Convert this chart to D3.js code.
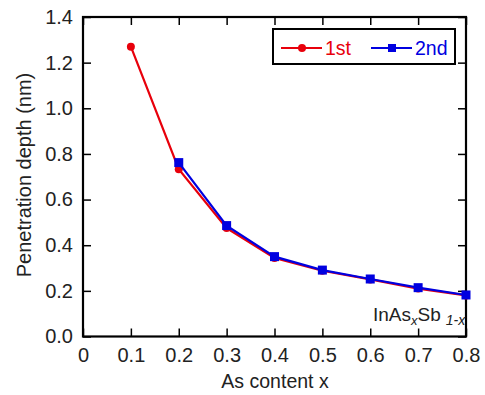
<!DOCTYPE html>
<html><head><meta charset="utf-8">
<script src="https://cdn.jsdelivr.net/npm/d3@7"></script>
<style>body{margin:0;background:#fff}svg{display:block}text{font-family:"Liberation Sans",Arial,sans-serif}</style>
</head><body>
<svg id="c" width="485" height="395"></svg>
<script>
const xValues = [0.1, 0.2, 0.3, 0.4, 0.5, 0.6, 0.7, 0.8];
const series1st = [1.27, 0.733, 0.475, 0.344, 0.288, 0.25, 0.21, 0.18];
const xValues2 = [0.2, 0.3, 0.4, 0.5, 0.6, 0.7, 0.8];
const series2nd = [0.762, 0.486, 0.35, 0.291, 0.252, 0.214, 0.182];
const xTicks = [0, 0.1, 0.2, 0.3, 0.4, 0.5, 0.6, 0.7, 0.8];
const yTicks = [0, 0.2, 0.4, 0.6, 0.8, 1.0, 1.2, 1.4];
const seriesNames = ["1st", "2nd"];
const RED = "#e8000b", BLUE = "#0000e0";

const svg = d3.select("#c");
const L = 83, R = 466, T = 17, B = 336.5;
const x = d3.scaleLinear().domain([0, 0.8]).range([L, R]);
const y = d3.scaleLinear().domain([0, 1.4]).range([B, T]);

const fmtX = d => d === 0 ? "0" : d3.format(".1f")(d);
const fmtY = d3.format(".1f");
const xMinor = d3.range(0, 0.8001, 0.02);
const yMinor = d3.range(0, 1.4001, 0.05);

// bottom
const gb = svg.append("g").attr("transform", `translate(0,${B})`);
gb.call(d3.axisBottom(x).tickValues(xMinor).tickSize(-4).tickFormat(""));
gb.call(d3.axisBottom(x).tickValues(xTicks).tickSize(-8).tickPadding(11).tickFormat(fmtX));
// top
const gt = svg.append("g").attr("transform", `translate(0,${T})`);
gt.call(d3.axisTop(x).tickValues(xMinor).tickSize(-4).tickFormat(""));
gt.call(d3.axisTop(x).tickValues(xTicks).tickSize(-8).tickFormat(""));
// left
const gl = svg.append("g").attr("transform", `translate(${L},0)`);
gl.call(d3.axisLeft(y).tickValues(yMinor).tickSize(-4).tickFormat(""));
gl.call(d3.axisLeft(y).tickValues(yTicks).tickSize(-8).tickPadding(10).tickFormat(fmtY));
// right
const gr = svg.append("g").attr("transform", `translate(${R},0)`);
gr.call(d3.axisRight(y).tickValues(yMinor).tickSize(-4).tickFormat(""));
gr.call(d3.axisRight(y).tickValues(yTicks).tickSize(-8).tickFormat(""));

svg.selectAll(".domain").remove();
svg.selectAll(".tick line").attr("stroke", "#000").attr("stroke-width", 1.5);
svg.selectAll(".tick text").attr("fill", "#222").style("font-size", "20px");

svg.append("rect").attr("x", L).attr("y", T).attr("width", R - L).attr("height", B - T)
  .attr("fill", "none").attr("stroke", "#000").attr("stroke-width", 2.2);

const line = d3.line().x(d => x(d[0])).y(d => y(d[1]));
const d1 = xValues.map((v, i) => [v, series1st[i]]);
const d2 = xValues2.map((v, i) => [v, series2nd[i]]);

svg.append("path").datum(d1).attr("d", line).attr("fill", "none").attr("stroke", RED).attr("stroke-width", 2.2);
svg.selectAll(".c1").data(d1).enter().append("circle")
  .attr("cx", d => x(d[0])).attr("cy", d => y(d[1])).attr("r", 4).attr("fill", RED);
svg.append("path").datum(d2).attr("d", line).attr("fill", "none").attr("stroke", BLUE).attr("stroke-width", 2.2);
svg.selectAll(".s2").data(d2).enter().append("rect")
  .attr("x", d => x(d[0]) - 4.5).attr("y", d => y(d[1]) - 4.5).attr("width", 9).attr("height", 9).attr("fill", BLUE);

// legend
const lg = svg.append("g");
lg.append("rect").attr("x", 273).attr("y", 29).attr("width", 182).attr("height", 35)
  .attr("fill", "#fff").attr("stroke", "#000").attr("stroke-width", 2);
lg.append("line").attr("x1", 281).attr("x2", 322).attr("y1", 48).attr("y2", 48).attr("stroke", RED).attr("stroke-width", 2);
lg.append("circle").attr("cx", 302).attr("cy", 48).attr("r", 4).attr("fill", RED);
lg.append("text").attr("x", 325).attr("y", 54.5).attr("fill", RED).style("font-size", "19.5px").text(seriesNames[0]);
lg.append("line").attr("x1", 371).attr("x2", 412).attr("y1", 48).attr("y2", 48).attr("stroke", BLUE).attr("stroke-width", 2);
lg.append("rect").attr("x", 388).attr("y", 44).attr("width", 8).attr("height", 8).attr("fill", BLUE);
lg.append("text").attr("x", 415).attr("y", 54.5).attr("fill", BLUE).style("font-size", "19.5px").text(seriesNames[1]);

// annotation
const ann = svg.append("text").attr("x", 373).attr("y", 321)
  .attr("fill", "#222").style("font-size", "19px");
ann.append("tspan").text("InAs");
ann.append("tspan").attr("dy", 4).style("font-size", "13px").style("font-style", "italic").text("x");
ann.append("tspan").attr("dy", -4).text("Sb");
ann.append("tspan").attr("dy", 4).attr("dx", 5).style("font-size", "14px").style("font-style", "italic").text("1-x");

// axis titles
svg.append("text").attr("x", (L + R) / 2 + 0.5).attr("y", 388).attr("text-anchor", "middle")
  .attr("fill", "#222").style("font-size", "19.5px").text("As content x");
svg.append("text").attr("transform", `translate(31,175) rotate(-90)`).attr("text-anchor", "middle")
  .attr("fill", "#222").style("font-size", "20px").text("Penetration depth (nm)");
</script>
</body></html>
